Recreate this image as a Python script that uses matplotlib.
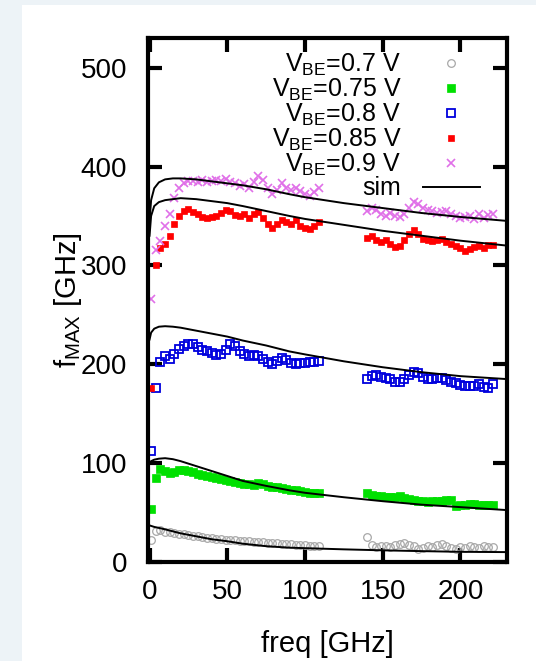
import numpy as np
import matplotlib
matplotlib.use("Agg")
import matplotlib.pyplot as plt
from matplotlib.patches import Rectangle

plt.rcParams['font.family'] = ['Liberation Sans', 'DejaVu Sans']
plt.rcParams['mathtext.fontset'] = 'custom'
plt.rcParams['mathtext.rm'] = 'Liberation Sans'
plt.rcParams['mathtext.it'] = 'Liberation Sans'

# ---- data ----
f_band1 = np.arange(1, 110, 3)      # 37 points
f_band2 = np.arange(140, 222, 3)    # 28 points

v070_b1 = [22, 31, 32, 30, 30, 29, 28, 28, 27, 26, 26, 25, 24, 24, 23, 23, 22, 22, 22, 21,
           21, 21, 20, 20, 20, 19, 19, 19, 18, 18, 18, 17, 17, 17, 16, 16, 16]
v070_b2 = [25, 17, 15, 16, 16, 15, 17, 18, 19, 17, 16, 13, 14, 16, 15, 17, 18, 16, 14, 13,
           15, 14, 16, 15, 14, 16, 15, 15]

v075_b1 = [54, 85, 94, 92, 90, 91, 93, 93, 92, 91, 89, 88, 87, 86, 85, 84, 83, 82, 81, 80,
           79, 79, 78, 80, 79, 77, 76, 76, 75, 74, 73, 73, 72, 71, 70, 70, 70]
v075_b2 = [70, 68, 67, 67, 66, 66, 66, 67, 65, 64, 63, 62, 62, 61, 62, 62, 62, 63, 63, 57,
           58, 58, 59, 59, 58, 58, 58, 58]

v080_b1 = [112, 176, 202, 208, 205, 210, 215, 218, 220, 220, 217, 214, 213, 211, 209, 210, 214, 220, 218, 213,
           210, 208, 209, 208, 205, 202, 200, 203, 206, 204, 201, 200, 201, 201, 202, 202, 203]
v080_b2 = [185, 188, 189, 187, 186, 185, 182, 182, 185, 189, 192, 191, 187, 185, 185, 186, 186, 184, 182, 181,
           179, 178, 178, 178, 180, 177, 176, 180]

v085_b1 = [176, 300, 318, 322, 330, 342, 350, 355, 357, 354, 352, 349, 348, 349, 350, 353, 356, 355, 351, 350,
           352, 348, 352, 354, 348, 342, 338, 342, 346, 344, 342, 346, 340, 338, 337, 340, 344]
v085_b2 = [328, 330, 326, 324, 326, 322, 319, 320, 326, 332, 336, 332, 327, 326, 325, 326, 327, 324, 322, 320,
           318, 315, 317, 319, 320, 318, 321, 321]

v090_b1 = [266, 316, 325, 340, 352, 368, 378, 383, 385, 385, 384, 386, 384, 385, 386, 385, 387, 384, 383, 380,
           382, 378, 384, 390, 386, 378, 372, 376, 383, 378, 376, 378, 375, 372, 370, 374, 378]
v090_b2 = [355, 358, 356, 352, 350, 353, 350, 349, 352, 358, 364, 362, 358, 356, 355, 353, 354, 355, 352, 350,
           348, 349, 350, 347, 352, 348, 351, 352]

# simulation curves
f_sim = [0, 1, 3, 6, 10, 15, 20, 30, 40, 50, 60, 75, 90, 100, 125, 150, 175, 200, 230]
sim070 = [37, 36.5, 35.5, 34.5, 33, 31, 29, 26, 23, 21, 18.5, 16, 14.5, 14, 12.8, 11.8, 11, 10.3, 10]
sim075 = [100, 102, 103.5, 104.5, 105, 104, 102, 97, 92, 87, 82, 77, 72.5, 70, 65.5, 61.5, 58, 55.5, 52.5]
sim080 = [225, 232, 236, 238, 238.5, 238, 237, 234, 231, 228, 224, 219, 213, 210, 203, 197, 192, 188, 185]
sim085 = [330, 350, 360, 364, 366, 367, 368, 367, 365, 363, 360, 355, 350, 347, 341, 335, 330, 325, 320]
sim090 = [345, 366, 378, 384, 387, 388, 388, 387, 385, 383, 381, 377, 372, 369, 363, 358, 353, 349, 345]

labels = [r'V$_{\mathrm{BE}}$=0.7 V', r'V$_{\mathrm{BE}}$=0.75 V', r'V$_{\mathrm{BE}}$=0.8 V',
          r'V$_{\mathrm{BE}}$=0.85 V', r'V$_{\mathrm{BE}}$=0.9 V']

# ---- figure ----
fig = plt.figure(figsize=(5.36, 6.61), dpi=100, facecolor='#edf3f7')
bg = fig.add_axes([22 / 536, 0, 1 - 22 / 536, 1 - 5 / 661], zorder=-5)
bg.axis('off')
bg.add_patch(Rectangle((0, 0), 1, 1, transform=bg.transAxes, facecolor='white', edgecolor='none'))

ax = fig.add_axes([148 / 536, 1 - 562 / 661, (507 - 148) / 536, (562 - 38) / 661], zorder=1)
ax.set_facecolor('white')

styles = [
    dict(marker='o', ms=5.5, mfc='none', mec='#a8a8a8', mew=0.9, ls='none'),
    dict(marker='s', ms=5.5, mfc='#00e000', mec='#00e000', mew=0.5, ls='none'),
    dict(marker='s', ms=5.5, mfc='none', mec='#0000dd', mew=1.3, ls='none'),
    dict(marker='s', ms=5, mfc='#ff0000', mec='#ff0000', mew=0.5, ls='none'),
    dict(marker='x', ms=6, mfc='none', mec='#e070e8', mew=1.2, ls='none'),
]
data = [(v070_b1, v070_b2), (v075_b1, v075_b2), (v080_b1, v080_b2), (v085_b1, v085_b2), (v090_b1, v090_b2)]

handles = []
for (b1, b2), st, lab in zip(data, styles, labels):
    h, = ax.plot(f_band1, b1, label=lab, **st)
    ax.plot(f_band2, b2, **st)
    handles.append(h)

for s in [sim070, sim075, sim080, sim085, sim090]:
    hs, = ax.plot(f_sim, s, color='black', lw=1.4)
handles.append(hs)

ax.set_xlim(-1, 230)
ax.set_ylim(0, 530)
ax.set_xticks([0, 50, 100, 150, 200])
ax.set_yticks([0, 100, 200, 300, 400, 500])
ax.tick_params(direction='in', length=10, width=3, top=True, right=True,
               labelsize=20, color='black')
ax.tick_params(axis='x', pad=12)
ax.tick_params(axis='y', pad=15)
for sp in ax.spines.values():
    sp.set_linewidth(3)

ax.set_xlabel('freq [GHz]', fontsize=21, labelpad=18)
ax.set_ylabel(r'f$_{\mathrm{MAX}}$ [GHz]', fontsize=21)
ax.yaxis.set_label_coords((84 - 148) / 359, 0.5)

leg = ax.legend(handles, labels + ['sim'], loc='upper right', bbox_to_anchor=(0.925, 0.974),
                frameon=False, markerfirst=False, fontsize=18, labelspacing=-0.05,
                handlelength=2.3, handletextpad=0.85, borderaxespad=0.0, borderpad=0.0)
for t in leg.get_texts():
    t.set_ha('right')

fig.savefig('out.png', dpi=100, facecolor=fig.get_facecolor())
